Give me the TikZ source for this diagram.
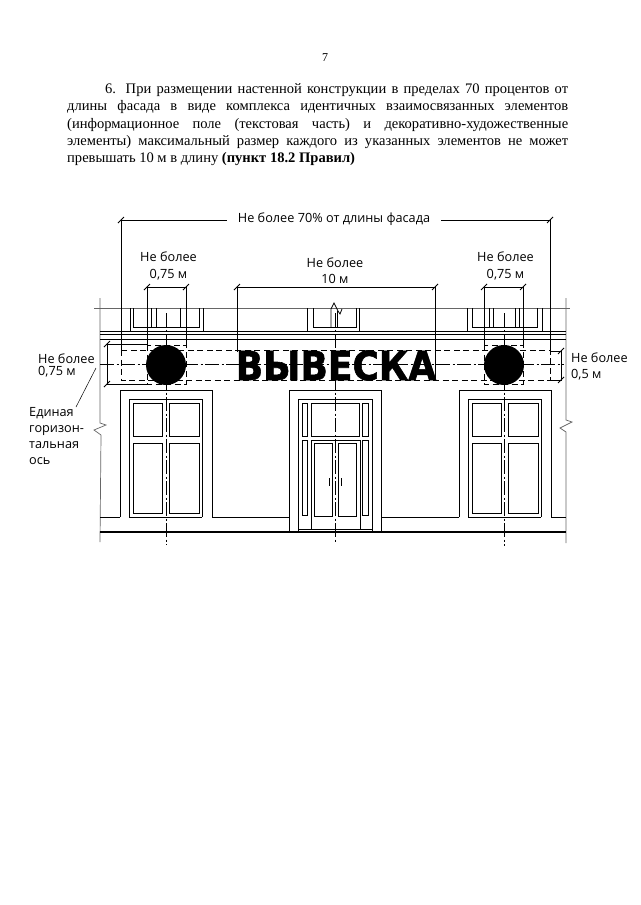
\documentclass[tikz,border=0pt]{standalone}
\usepackage{fontspec}
\setmainfont{Liberation Serif}
\newfontfamily\labelfont{Open Sans}
\newfontfamily\signfont[BoldFeatures={FakeBold=1.5}]{DejaVu Sans}
\newcommand\addtick[1]{\draw[shift={#1},line width=1pt] (-3,3) -- (3,-3);}
\tikzset{
  wall/.style={black!60,line width=0.7pt},
  part/.style={black,line width=0.8pt},
  dimline/.style={black,line width=1pt},
  dashbox/.style={black,line width=1pt,dash pattern=on 6pt off 3.5pt},
  axisline/.style={black,line width=0.9pt,dash pattern=on 14pt off 2.5pt on 2pt off 2.5pt},
  caption/.style={font=\labelfont\fontsize{12.7}{16.3}\selectfont,align=center,inner sep=0pt},
  sidenote/.style={font=\labelfont\fontsize{12.7}{16.3}\selectfont,align=left,inner sep=0pt,anchor=west}
}
\begin{document}
\begin{tikzpicture}[x=1pt,y=-1pt]
\useasboundingbox[fill=white] (0,0) rectangle (640,905);
\node[inner sep=0pt,font=\fontsize{12}{14}\selectfont] (pagenum) at (325,58) {7};
\node[inner sep=0pt,anchor=north west,text width=501pt,align=justify,font=\fontsize{14.55}{17.3}\selectfont] (bodytext) at (67,83.5)
{\hspace*{38pt}6. При размещении настенной конструкции в пределах 70 процентов от\linebreak
длины фасада в виде комплекса идентичных взаимосвязанных элементов\linebreak
(информационное поле (текстовая часть) и декоративно-художественные\linebreak
элементы) максимальный размер каждого из указанных элементов не может\linebreak
превышать 10 м в длину \textbf{(пункт 18.2 Правил)}};

\draw[wall] (100,298) -- (100,423) -- (106,425) -- (94,430) -- (101,435) -- (100,542);
\draw[wall] (566,298) -- (566,420) -- (572,422) -- (560,428) -- (566,432) -- (566,543);
\draw[wall] (94,308) -- (570,308);
\draw[part] (100,331) -- (566,331);
\draw[part] (100,334) -- (566,334);
\draw[part] (100,339) -- (566,339);

\draw[part] (130,308) -- (130,331) (203,308) -- (203,331);
\draw[part] (133,308) -- (133,327) -- (199,327) -- (199,308);
\draw[part] (151,308) -- (151,327) (156,308) -- (156,327) (180,308) -- (180,327) (186,308) -- (186,327);
\draw[part] (307,308) -- (307,331) (359,308) -- (359,331);
\draw[part] (313,308) -- (313,327) -- (356,327) -- (356,308);
\draw[part] (331,327) -- (331,309) -- (334,303) -- (338,311) -- (340,314) -- (342,309);
\draw[part] (337,327) -- (337,311);
\draw[part] (467,308) -- (467,331) (542,308) -- (542,331);
\draw[part] (472,308) -- (472,327) -- (537,327) -- (537,308);
\draw[part] (489,308) -- (489,327) (493,308) -- (493,327) (515,308) -- (515,327) (519,308) -- (519,327);

\draw[part] (120,517) -- (120,390) -- (212,390) -- (212,517);
\draw[part] (129,517) -- (129,399) -- (202,399) -- (202,517);
\draw[part] (133,403) rectangle (162,436);
\draw[part] (169,403) rectangle (199,436);
\draw[part] (133,443) rectangle (162,513);
\draw[part] (169,443) rectangle (199,513);

\draw[part] (459,517) -- (459,390) -- (551,390) -- (551,517);
\draw[part] (468,517) -- (468,399) -- (541,399) -- (541,517);
\draw[part] (472,403) rectangle (501,436);
\draw[part] (508,403) rectangle (538,436);
\draw[part] (472,443) rectangle (501,513);
\draw[part] (508,443) rectangle (538,513);

\draw[part] (289,532) -- (289,390) -- (381,390) -- (381,532);
\draw[part] (298,532) -- (298,399) -- (372,399) -- (372,532);
\draw[part] (302,403) rectangle (307,436);
\draw[part] (302,440) rectangle (307,515);
\draw[part] (311,403) rectangle (359,436);
\draw[part] (362,403) rectangle (368,436);
\draw[part] (362,440) rectangle (368,515);
\draw[part] (311,529) -- (311,440) -- (360,440) -- (360,529);
\draw[part] (314,443) rectangle (332,516);
\draw[part] (338,443) rectangle (356,516);
\draw[part] (298,529) -- (372,529);
\draw[part] (329,478) -- (329,486) (341,478) -- (341,486);

\draw[part] (100,517) -- (120,517) (129,517) -- (202,517) (212,517) -- (289,517);
\draw[part] (381,517) -- (459,517) (468,517) -- (541,517) (551,517) -- (566,517);
\draw[black,line width=1.4pt] (100,532) -- (566,532);

\draw[axisline] (166,313) -- (166,545);
\draw[axisline] (335,313) -- (335,542);
\draw[axisline] (504,313) -- (504,546);
\draw[axisline] (100,364.5) -- (564,364.5);

\draw[dashbox] (121,350) rectangle (550,380);
\draw[dashbox] (147,345) rectangle (186,384);
\draw[dashbox] (484,345) rectangle (523,384);
\fill[black] (166,365) circle (20);
\fill[black] (504,365) circle (20);
\node[inner sep=0pt,font=\signfont\bfseries\fontsize{40}{40}\selectfont,xscale=0.9,transform shape] (signword) at (336,365.5) {ВЫВЕСКА};

\draw[dimline] (121,350) -- (121,220) -- (227,220);
\draw[dimline] (441,220) -- (550,220) -- (550,350);
\addtick{(121,220)}
\addtick{(550,220)}
\node[caption] (facade) at (334,219) {Не более 70\% от длины фасада};

\draw[dimline] (147,345) -- (147,287) -- (186,287) -- (186,345);
\addtick{(147,287)}
\addtick{(186,287)}
\node[caption] (leftsize) at (168.5,266) {Не более\\0,75 м};

\draw[dimline] (237,352) -- (237,287) -- (435,287) -- (435,380);
\addtick{(237,287)}
\addtick{(435,287)}
\node[caption] (signsize) at (335,270.5) {Не более\\10 м};

\draw[dimline] (484,345) -- (484,287) -- (523,287) -- (523,345);
\addtick{(484,287)}
\addtick{(523,287)}
\node[caption] (rightsize) at (505.5,266) {Не более\\0,75 м};

\draw[dimline] (147,344) -- (107,344) -- (107,384) -- (147,384);
\addtick{(107,344)}
\addtick{(107,384)}
\node[sidenote,font=\labelfont\fontsize{12.7}{12}\selectfont] (circlesize) at (38,365.5) {Не более\\0,75 м};

\draw[dimline] (550,351) -- (561,351) -- (561,380) -- (550,380);
\addtick{(561,351)}
\addtick{(561,380)}
\node[sidenote] (bandsize) at (571,366.5) {Не более\\0,5 м};

\node[sidenote] (axisnote) at (29,436) {Единая\\горизон-\\тальная\\ось};
\coordinate (leadtop) at (96,368);
\coordinate (leadend) at (76,407);
\draw[black,line width=0.5pt] (leadtop) -- (leadend);
\end{tikzpicture}
\end{document}
